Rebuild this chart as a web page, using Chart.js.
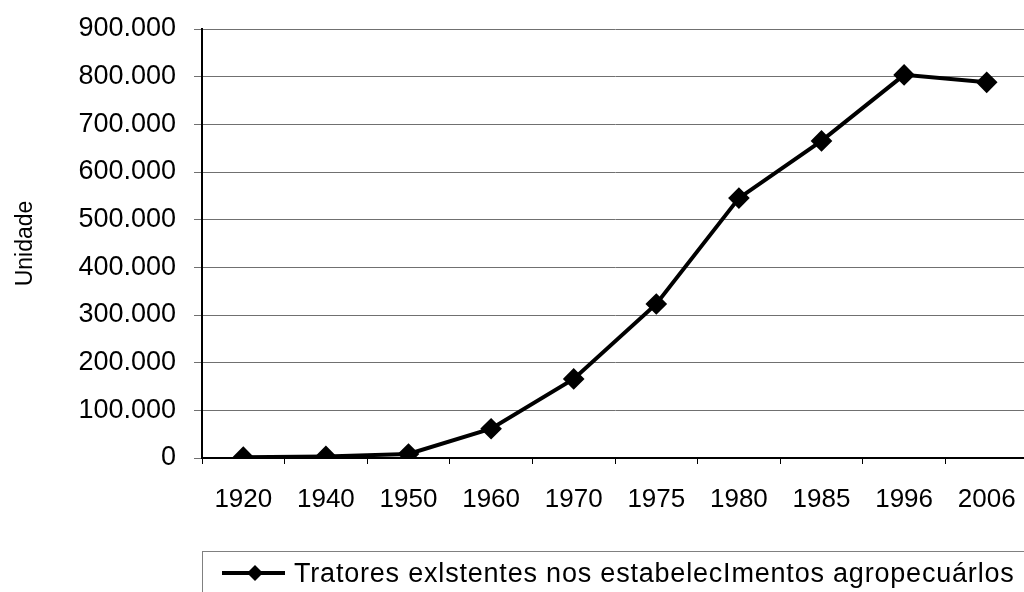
<!DOCTYPE html>
<html>
<head>
<meta charset="utf-8">
<script src="https://cdn.jsdelivr.net/npm/chart.js@4/dist/chart.umd.min.js"></script>
<style>
  html, body { margin: 0; padding: 0; background: #fff; overflow: hidden; }
  #wrap { width: 1040px; height: 592px; }
</style>
</head>
<body>
<div id="wrap"><canvas id="chart" width="1040" height="592"></canvas></div>
<script>
const years = ['1920', '1940', '1950', '1960', '1970', '1975', '1980', '1985', '1996', '2006'];
const tractors = [1706, 3380, 8372, 61345, 165870, 323113, 545205, 665280, 803742, 788053];
const yTickLabels = ['0', '100.000', '200.000', '300.000', '400.000', '500.000', '600.000', '700.000', '800.000', '900.000'];
const seriesName = 'Tratores exlstentes nos estabelecImentos agropecuárlos';
const yTitle = 'Unidade';

const font = 'Liberation Sans, Arial, sans-serif';

// legend drawn under the plot area, box spans the plot width
const bottomLegend = {
  id: 'bottomLegend',
  afterDraw(chart) {
    const ctx = chart.ctx;
    const area = chart.chartArea;
    const ds = chart.data.datasets[0];
    ctx.save();
    ctx.strokeStyle = '#808080';
    ctx.lineWidth = 1;
    ctx.strokeRect(area.left + 0.5, 551.5, area.right - area.left, 80);
    const y = 573;
    ctx.strokeStyle = '#000';
    ctx.lineWidth = 4;
    ctx.beginPath();
    ctx.moveTo(222, y);
    ctx.lineTo(285, y);
    ctx.stroke();
    ctx.fillStyle = '#000';
    ctx.beginPath();
    ctx.moveTo(255, y - 8);
    ctx.lineTo(263, y);
    ctx.lineTo(255, y + 8);
    ctx.lineTo(247, y);
    ctx.closePath();
    ctx.fill();
    ctx.font = '27px ' + font;
    ctx.textBaseline = 'alphabetic';
    ctx.textAlign = 'left';
    // stretch text to the width it takes in the reference
    const plain = ctx.measureText(ds.label).width;
    const extra = (720 - plain) / (ds.label.length - 1);
    if (extra > 0) ctx.letterSpacing = extra.toFixed(2) + 'px';
    ctx.fillText(ds.label, 294, 582);
    ctx.restore();
  }
};

new Chart(document.getElementById('chart').getContext('2d'), {
  type: 'line',
  data: {
    labels: years,
    datasets: [{
      label: seriesName,
      data: tractors,
      borderColor: '#000',
      backgroundColor: '#000',
      borderWidth: 4,
      pointStyle: 'rectRot',
      pointRadius: 8,
      pointBackgroundColor: '#000',
      pointBorderColor: '#000',
      tension: 0
    }]
  },
  options: {
    responsive: false,
    animation: false,
    layout: { padding: { top: 29, right: 4, bottom: 0, left: 0 } },
    plugins: {
      legend: { display: false },
      tooltip: { enabled: false }
    },
    scales: {
      x: {
        offset: true,
        afterFit: (s) => { s.height = 134; },
        grid: { offset: true, drawOnChartArea: false, drawTicks: true, tickLength: 6, color: '#000' },
        border: { color: '#000', width: 2 },
        ticks: { color: '#000', padding: 20, maxRotation: 0, font: { family: font, size: 26 } }
      },
      y: {
        min: 0,
        max: 900000,
        afterFit: (s) => { s.width = 202; s.paddingTop = 0; s.paddingBottom = 0; },
        grid: { color: '#707070', lineWidth: 1, tickLength: 8, tickColor: '#707070' },
        border: { color: '#000', width: 2 },
        ticks: {
          stepSize: 100000,
          color: '#000',
          padding: 18,
          font: { family: font, size: 27 },
          callback: (v) => yTickLabels[Math.round(v / 100000)]
        },
        title: {
          display: true,
          text: yTitle,
          color: '#000',
          padding: { top: 12, bottom: 0 },
          font: { family: font, size: 23 }
        }
      }
    }
  },
  plugins: [bottomLegend]
});
</script>
</body>
</html>
